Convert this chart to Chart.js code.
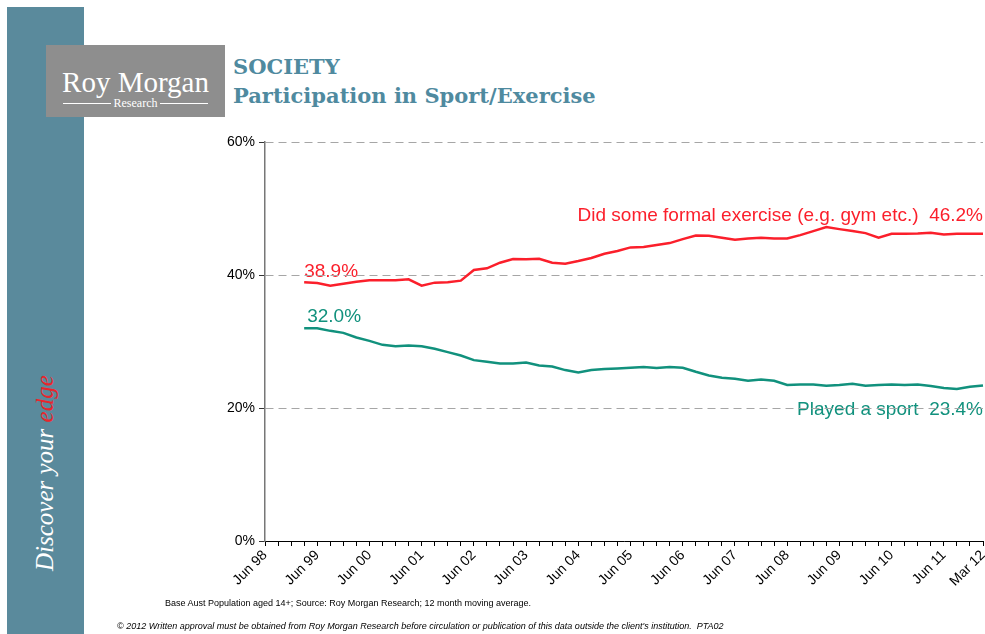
<!DOCTYPE html>
<html>
<head>
<meta charset="utf-8">
<script src="https://cdn.jsdelivr.net/npm/chart.js@4"></script>
<style>
  body { margin: 0; background: #fff; width: 985px; height: 634px; overflow: hidden; position: relative; font-family: "Liberation Sans", Arial, sans-serif; }
  #side { position: absolute; left: 7px; top: 7px; width: 77px; height: 627px; background: #5a8a9c; }
  #slogan { position: absolute; left: 30px; top: 571px; transform-origin: left top; transform: rotate(-90deg);
            font: italic 25px "Liberation Serif", serif; color: #fff; white-space: nowrap; line-height: 30px; }
  #slogan span { color: #e8262c; }
  #logo { position: absolute; left: 46px; top: 45px; width: 179px; height: 72px; background: #8e8e8e; color: #fff; text-align: center; }
  #logo .name { font: 29px "Liberation Serif", serif; margin-top: 22px; line-height: 30px; }
  #logo .sub { font: 12px "Liberation Serif", serif; line-height: 12px; display: flex; align-items: center; justify-content: center; gap: 3px; }
  #logo .sub i { display: block; width: 48px; height: 1px; background: #fff; }
  .title { position: absolute; left: 233px; font: bold 21px "DejaVu Serif", serif; color: #4f8a9f; white-space: nowrap; }
  .note { position: absolute; font-size: 9px; color: #000; white-space: nowrap; }
  #chart { position: absolute; left: 0; top: 0; }
</style>
</head>
<body>
<div id="side"></div>
<div id="slogan">Discover your <span>edge</span></div>
<div id="logo"><div class="name">Roy Morgan</div><div class="sub"><i></i>Research<i></i></div></div>
<div class="title" style="top:54px">SOCIETY</div>
<div class="title" style="top:83px">Participation in Sport/Exercise</div>
<canvas id="chart" width="985" height="634"></canvas>
<div class="note" style="left:165px; top:598px">Base Aust Population aged 14+; Source: Roy Morgan Research; 12 month moving average.</div>
<div class="note" style="left:117px; top:621px; font-style:italic">© 2012 Written approval must be obtained from Roy Morgan Research before circulation or publication of this data outside the client's institution.&nbsp; PTA02</div>
<script>
// quarterly, 12 month moving average
const quarters = [
  'Jun 98', 'Sep 98', 'Dec 98', 'Mar 99', 'Jun 99', 'Sep 99', 'Dec 99', 'Mar 00',
  'Jun 00', 'Sep 00', 'Dec 00', 'Mar 01', 'Jun 01', 'Sep 01', 'Dec 01', 'Mar 02',
  'Jun 02', 'Sep 02', 'Dec 02', 'Mar 03', 'Jun 03', 'Sep 03', 'Dec 03', 'Mar 04',
  'Jun 04', 'Sep 04', 'Dec 04', 'Mar 05', 'Jun 05', 'Sep 05', 'Dec 05', 'Mar 06',
  'Jun 06', 'Sep 06', 'Dec 06', 'Mar 07', 'Jun 07', 'Sep 07', 'Dec 07', 'Mar 08',
  'Jun 08', 'Sep 08', 'Dec 08', 'Mar 09', 'Jun 09', 'Sep 09', 'Dec 09', 'Mar 10',
  'Jun 10', 'Sep 10', 'Dec 10', 'Mar 11', 'Jun 11', 'Sep 11', 'Dec 11', 'Mar 12'
];
const exercise = [
  null, null, null,
  38.9, 38.8, 38.4, 38.7, 39.0, 39.2, 39.2, 39.2, 39.35, 38.4, 38.85, 38.9, 39.15,
  40.75, 41.0, 41.85, 42.4, 42.35, 42.45, 41.85, 41.7, 42.1, 42.55, 43.2, 43.6,
  44.15, 44.2, 44.5, 44.8, 45.4, 45.95, 45.9, 45.6, 45.3, 45.5, 45.6, 45.5, 45.5,
  46.0, 46.6, 47.2, 46.9, 46.6, 46.3, 45.6, 46.2, 46.2, 46.25, 46.35, 46.1, 46.2, 46.2, 46.2
];
const sport = [
  null, null, null,
  32.0, 32.0, 31.6, 31.3, 30.6, 30.1, 29.5, 29.3, 29.4, 29.3, 28.9, 28.4, 27.9,
  27.2, 26.95, 26.7, 26.7, 26.85, 26.4, 26.25, 25.7, 25.35, 25.7, 25.85, 25.95,
  26.05, 26.15, 26.0, 26.15, 26.05, 25.45, 24.9, 24.55, 24.4, 24.1, 24.3, 24.1, 23.45,
  23.55, 23.55, 23.35, 23.45, 23.65, 23.35, 23.45, 23.55, 23.45, 23.55, 23.3, 23.0, 22.85, 23.2, 23.4
];
const yTicks = [0, 20, 40, 60];

const RED = '#fb1f2b', TEAL = '#11917d';

// start/end value labels, drawn before the grid so the dashes run over them
const endLabels = {
  id: 'endLabels',
  beforeDraw(chart) {
    const { ctx, chartArea, scales: { x, y } } = chart;
    const first = exercise.findIndex(v => v !== null);
    const last = quarters.length - 1;
    ctx.save();
    ctx.font = '19px "Liberation Sans", Arial, sans-serif';
    ctx.textBaseline = 'alphabetic';
    ctx.textAlign = 'left';
    ctx.fillStyle = RED;
    ctx.fillText(exercise[first].toFixed(1) + '%', x.getPixelForValue(first), y.getPixelForValue(exercise[first]) - 5);
    ctx.fillStyle = TEAL;
    ctx.fillText(sport[first].toFixed(1) + '%', x.getPixelForValue(first) + 3, y.getPixelForValue(sport[first]) - 6);
    ctx.textAlign = 'right';
    ctx.fillStyle = RED;
    ctx.fillText('Did some formal exercise (e.g. gym etc.)  ' + exercise[last].toFixed(1) + '%', chartArea.right, y.getPixelForValue(exercise[last]) - 13);
    ctx.fillStyle = TEAL;
    ctx.fillText('Played a sport  ' + sport[last].toFixed(1) + '%', chartArea.right, y.getPixelForValue(sport[last]) + 30);
    ctx.restore();
  }
};

new Chart(document.getElementById('chart'), {
  type: 'line',
  data: {
    labels: quarters,
    datasets: [
      { data: exercise, borderColor: RED, borderWidth: 2.5, pointRadius: 0, tension: 0 },
      { data: sport, borderColor: TEAL, borderWidth: 2.5, pointRadius: 0, tension: 0 }
    ]
  },
  options: {
    responsive: false,
    animation: false,
    layout: { padding: { left: 190, top: 142, right: 2, bottom: 33 } },
    plugins: { legend: { display: false }, tooltip: { enabled: false } },
    scales: {
      x: {
        offset: false,
        afterFit(s) { s.height = 60; s.paddingLeft = 0; s.paddingRight = 0; },
        border: { color: '#000', width: 1 },
        grid: { drawOnChartArea: false, drawTicks: true, tickLength: 5, tickColor: '#000' },
        ticks: {
          autoSkip: false, maxRotation: 45, minRotation: 45, padding: 1,
          color: '#000', font: { family: '"Liberation Sans", Arial, sans-serif', size: 14 },
          callback: (v, i) => (quarters[i].startsWith('Jun') || i === quarters.length - 1) ? quarters[i] : ''
        }
      },
      y: {
        min: 0, max: 60,
        afterFit(s) { s.width = 75; s.paddingTop = 0; s.paddingBottom = 0; },
        afterBuildTicks(s) { s.ticks = yTicks.map(v => ({ value: v })); },
        border: { color: '#777', width: 1.5, dash: [8, 5] },
        grid: { color: '#a6a6a6', lineWidth: 1, drawTicks: true, tickLength: 6, tickColor: '#333', tickBorderDash: [] },
        ticks: {
          padding: 4, color: '#000', font: { family: '"Liberation Sans", Arial, sans-serif', size: 14 },
          callback: v => v + '%'
        }
      }
    }
  },
  plugins: [endLabels]
});
</script>
</body>
</html>
